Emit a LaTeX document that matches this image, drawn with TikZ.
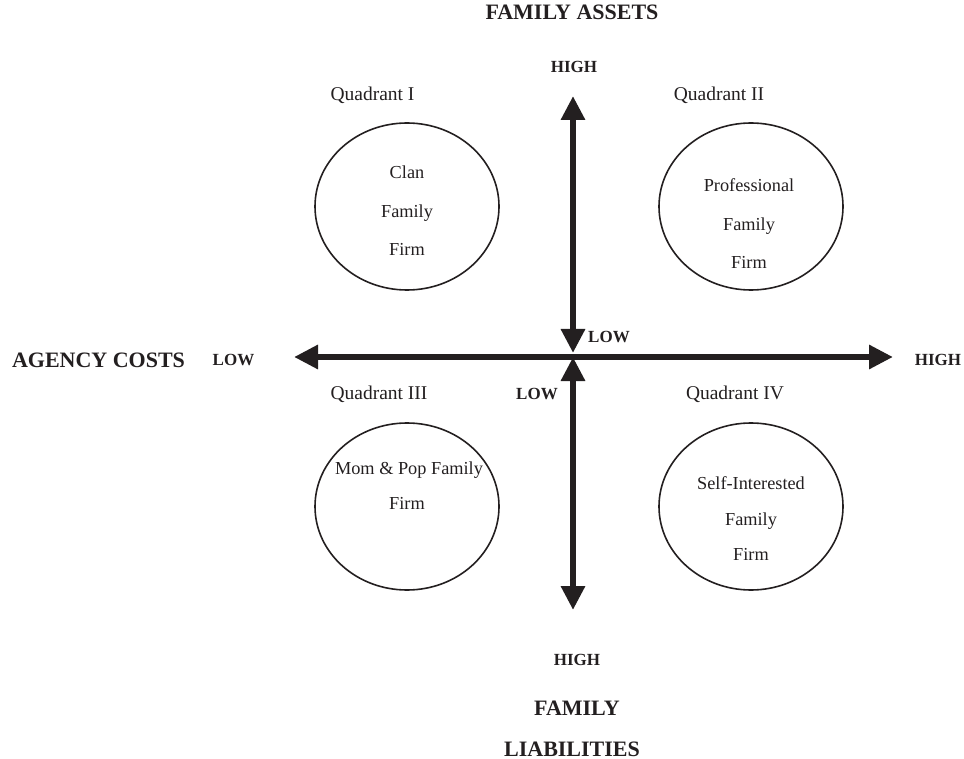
\documentclass[tikz,border=0pt]{standalone}
\usepackage{fontspec}
\setmainfont{Liberation Serif}
\usetikzlibrary{arrows.meta,shapes.geometric}
\definecolor{ink}{RGB}{35,31,32}
\begin{document}
\begin{tikzpicture}[x=1pt,y=-1pt,
  big/.style={font=\bfseries\fontsize{22}{26}\selectfont, anchor=base, inner sep=0pt, text=ink},
  lvl/.style={font=\bfseries\fontsize{17}{20}\selectfont, anchor=base, inner sep=0pt, text=ink},
  quad/.style={font=\fontsize{19.5}{23}\selectfont, anchor=base, inner sep=0pt, text=ink},
  txt/.style={font=\fontsize{18.3}{22}\selectfont, anchor=base, inner sep=0pt, text=ink},
  oval/.style={ellipse, draw=ink, line width=1.6pt, minimum width=184pt, minimum height=167pt, inner sep=0pt},
  axis/.style={line width=6.5pt, draw=ink, {Triangle[length=24pt,width=23pt]}-{Triangle[length=24pt,width=23pt]}}
]
\useasboundingbox (0,0) rectangle (964,759);

% axes
\coordinate (top) at (573,96);
\coordinate (Ot) at (573,353);
\coordinate (Ob) at (573,357);
\coordinate (bot) at (573,610);
\coordinate (left) at (294,357);
\coordinate (right) at (893,357);
\draw[axis] (left) -- (right);
\draw[axis] (top) -- (Ot);
\draw[axis] (Ob) -- (bot);

% ellipses
\node[oval] (e1) at (407,206.5) {};
\node[oval] (e2) at (751,206.5) {};
\node[oval] (e3) at (407,506.5) {};
\node[oval] (e4) at (751,506.5) {};

% axis labels
\node[big] (fa) at (572,20) {FAMILY ASSETS};
\node[lvl] (hiT) at (574,73) {HIGH};
\node[lvl] (loR) at (609,343) {LOW};
\node[big] (ac) at (98.5,367) {AGENCY COSTS};
\node[lvl] (loL) at (233.5,366) {LOW};
\node[lvl] (hiR) at (938,366) {HIGH};
\node[lvl] (loB) at (537,399) {LOW};
\node[lvl] (hiB) at (577,665) {HIGH};
\node[big] (fl1) at (577,715) {FAMILY};
\node[big] (fl2) at (572,756) {LIABILITIES};

% quadrant labels
\node[quad] (q1) at (372.5,101) {Quadrant I};
\node[quad] (q2) at (719,101) {Quadrant II};
\node[quad] (q3) at (379,399) {Quadrant III};
\node[quad] (q4) at (735,399) {Quadrant IV};

% ellipse texts
\node[txt] (c1) at (407,179) {Clan};
\node[txt] (c2) at (407,218) {Family};
\node[txt] (c3) at (407,256) {Firm};
\node[txt] (p1) at (749,192) {Professional};
\node[txt] (p2) at (749,231) {Family};
\node[txt] (p3) at (749,269) {Firm};
\node[txt] (m1) at (409,474) {Mom \& Pop Family};
\node[txt] (m2) at (407,509) {Firm};
\node[txt] (s1) at (751,489) {Self-Interested};
\node[txt] (s2) at (751,525) {Family};
\node[txt] (s3) at (751,560) {Firm};
\end{tikzpicture}
\end{document}
